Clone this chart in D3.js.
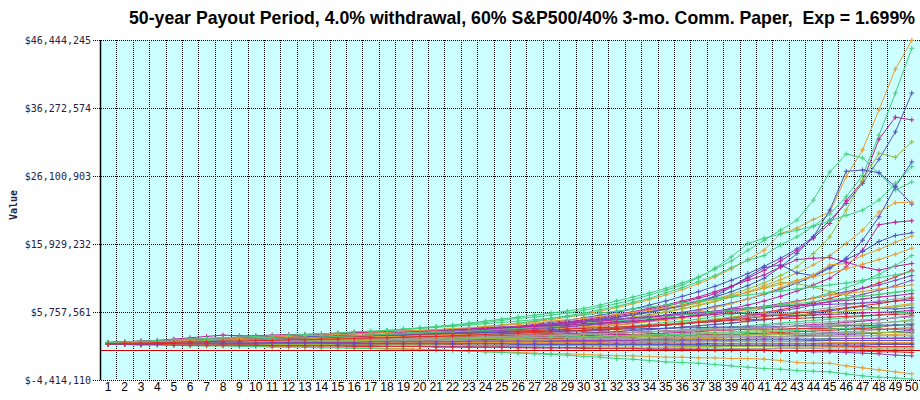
<!DOCTYPE html>
<html>
<head>
<meta charset="utf-8">
<script src="https://cdn.jsdelivr.net/npm/d3@7"></script>
<style>
body { margin: 0; background: #fff; }
svg { display: block; }
</style>
</head>
<body>
<svg id="chart" width="920" height="400"></svg>
<script>
const title = '50-year Payout Period, 4.0% withdrawal, 60% S&P500/40% 3-mo. Comm. Paper,  Exp = 1.699%'

const years = [1,2,3,4,5,6,7,8,9,10,11,12,13,14,15,16,17,18,19,20,21,22,23,24,25,
    26,27,28,29,30,31,32,33,34,35,36,37,38,39,40,41,42,43,44,45,46,47,48,49,50]

const yTicks = [-4414110, 5757561, 15929232, 26100903, 36272574, 46444245]
const yTickLabels = ['$-4,414,110', '$5,757,561', '$15,929,232', '$26,100,903', '$36,272,574', '$46,444,245']

// portfolio value per payout year, in millions of dollars
const s01 = [1.1,1.2,1.2,1.3,1.3,1.4,1.5,1.5,1.6,1.7, 1.8,1.9,1.9,2.0,2.2,2.3,2.4,2.5,2.7,2.8, 3.0,3.1,3.3,3.5,3.8,4.0,4.3,4.6,5.0,5.4, 5.9,6.4,7.0,7.6,8.3,9.1,10.0,11.0,12.2,13.6, 15.0,17.5,18.3,19.6,20.7,26.0,30.0,36.0,42.1,46.4]
const s02 = [1.0,1.1,1.2,1.2,1.3,1.4,1.4,1.5,1.6,1.6, 1.7,1.8,1.9,2.0,2.1,2.2,2.3,2.5,2.6,2.8, 2.9,3.1,3.3,3.6,3.8,4.1,4.4,4.8,5.2,5.6, 6.1,6.6,7.2,7.8,8.6,9.4,10.3,11.2,12.4,13.5, 14.2,15.8,17.0,18.6,20.4,23.0,26.2,32.2,38.5,45.2]
const s03 = [1.1,1.1,1.2,1.3,1.3,1.4,1.5,1.5,1.6,1.7, 1.7,1.8,1.9,2.0,2.1,2.1,2.2,2.3,2.5,2.6, 2.7,2.9,3.0,3.2,3.4,3.6,3.9,4.2,4.5,4.9, 5.3,5.7,6.2,6.8,7.4,8.1,8.8,9.6,10.5,11.5, 12.6,13.8,15.2,17.0,19.5,22.0,25.0,28.6,32.7,38.5]
const s04 = [1.0,1.1,1.1,1.2,1.2,1.3,1.4,1.4,1.5,1.5, 1.6,1.7,1.7,1.8,1.9,2.0,2.1,2.2,2.3,2.4, 2.6,2.7,2.9,3.0,3.2,3.4,3.6,3.9,4.2,4.5, 4.8,5.2,5.6,6.1,6.6,7.2,7.8,8.5,9.6,10.8, 12.0,13.4,14.9,16.8,19.0,22.4,25.3,31.6,34.9,34.5]
const s05 = [1.1,1.2,1.3,1.3,1.4,1.5,1.6,1.7,1.8,1.9, 2.0,2.1,2.2,2.3,2.5,2.6,2.8,3.0,3.2,3.4, 3.6,3.8,4.1,4.4,4.7,5.0,5.3,5.6,5.9,6.3, 6.8,7.4,8.0,8.6,9.3,10.1,11.0,12.2,13.4,15.0, 16.5,18.0,19.5,22.5,26.7,29.4,28.8,26.5,24.0,25.2]
const s06 = [1.0,1.1,1.1,1.2,1.3,1.3,1.4,1.4,1.5,1.6, 1.6,1.7,1.8,1.8,1.9,2.0,2.1,2.2,2.3,2.4, 2.5,2.6,2.8,2.9,3.1,3.3,3.5,3.7,4.0,4.3, 4.6,4.9,5.3,5.7,6.1,6.6,7.1,7.7,8.4,9.2, 10.1,11.2,12.5,14.5,17.0,21.0,25.5,29.5,28.9,31.2]
const s07 = [1.1,1.1,1.2,1.2,1.3,1.3,1.4,1.4,1.5,1.5, 1.6,1.6,1.7,1.8,1.8,1.9,2.0,2.0,2.1,2.2, 2.3,2.4,2.5,2.7,2.8,3.0,3.1,3.3,3.5,3.8, 4.0,4.3,4.6,4.9,5.3,5.7,6.1,6.6,7.1,7.7, 8.4,9.2,10.1,11.1,12.3,13.8,16.5,20.0,24.5,28.2]
const s08 = [1.1,1.2,1.2,1.3,1.4,1.5,1.5,1.6,1.7,1.8, 1.9,2.0,2.1,2.2,2.4,2.5,2.7,2.9,3.1,3.3, 3.5,3.7,4.0,4.2,4.5,4.8,5.0,5.3,5.6,6.0, 6.5,7.0,7.6,8.3,9.0,9.8,10.9,12.3,14.0,16.0, 16.8,17.4,18.0,18.6,19.4,20.2,21.0,22.5,25.0,27.5]
const s09 = [1.0,1.1,1.1,1.2,1.2,1.3,1.3,1.4,1.5,1.5, 1.6,1.6,1.7,1.8,1.9,1.9,2.0,2.1,2.2,2.3, 2.4,2.6,2.7,2.9,3.0,3.2,3.4,3.7,3.9,4.2, 4.5,4.9,5.3,5.7,6.2,6.7,7.3,8.0,8.8,9.7, 10.8,12.5,14.5,17.0,21.0,26.8,27.0,26.6,24.5,21.9]
const s10 = [1.1,1.1,1.2,1.2,1.3,1.3,1.4,1.5,1.5,1.6, 1.6,1.7,1.7,1.8,1.9,2.0,2.0,2.1,2.2,2.3, 2.4,2.5,2.6,2.8,2.9,3.1,3.3,3.5,3.7,4.0, 4.3,4.6,4.9,5.3,5.7,6.2,6.7,7.3,8.0,8.8, 9.7,10.6,11.6,12.8,14.2,16.0,18.0,20.7,22.1,22.2]
const s11 = [1.0,1.0,1.1,1.1,1.2,1.2,1.3,1.3,1.4,1.4, 1.5,1.5,1.6,1.6,1.7,1.8,1.8,1.9,2.0,2.1, 2.1,2.2,2.3,2.4,2.6,2.7,2.8,3.0,3.2,3.4, 3.6,3.8,4.1,4.4,4.7,5.0,5.4,5.8,6.3,6.8, 7.4,8.1,8.9,9.8,10.8,12.5,15.0,18.8,19.2,19.4]
const s12 = [1.1,1.1,1.2,1.2,1.3,1.3,1.4,1.4,1.5,1.6, 1.6,1.7,1.8,1.8,1.9,2.0,2.1,2.2,2.3,2.4, 2.5,2.7,2.8,3.0,3.2,3.4,3.6,3.8,4.1,4.4, 4.7,5.0,5.4,5.8,6.3,6.8,7.4,8.1,9.5,11.0, 12.4,12.8,11.6,11.2,12.5,13.6,14.8,16.3,17.2,17.6]
const s13 = [1.0,1.1,1.1,1.2,1.2,1.3,1.3,1.4,1.4,1.5, 1.5,1.6,1.6,1.7,1.8,1.8,1.9,2.0,2.0,2.1, 2.2,2.3,2.4,2.5,2.6,2.8,2.9,3.1,3.3,3.5, 3.7,4.0,4.3,4.6,5.0,5.4,5.9,6.4,7.0,7.7, 8.5,9.4,10.4,11.3,12.8,13.0,14.2,15.1,16.2,17.1]
const s14 = [1.1,1.2,1.2,1.3,1.3,1.4,1.5,1.5,1.6,1.7, 1.7,1.8,1.9,2.0,2.0,2.1,2.2,2.3,2.4,2.5, 2.7,2.8,3.0,3.1,3.3,3.5,3.8,4.0,4.3,4.6, 5.0,5.4,5.8,6.3,6.8,7.4,8.0,8.8,9.6,10.5, 11.3,12.5,13.6,13.8,13.9,13.2,12.5,12.0,12.6,13.0]
const s15 = [1.0,1.0,1.1,1.1,1.2,1.2,1.3,1.3,1.4,1.4, 1.5,1.5,1.6,1.6,1.7,1.7,1.8,1.9,1.9,2.0, 2.1,2.2,2.2,2.3,2.4,2.5,2.7,2.8,2.9,3.1, 3.3,3.5,3.7,3.9,4.2,4.4,4.7,5.1,5.4,5.8, 6.3,6.8,7.3,7.9,8.6,9.4,10.3,11.4,12.7,14.2]
const s16 = [1.1,1.1,1.2,1.2,1.2,1.3,1.3,1.4,1.4,1.5, 1.5,1.5,1.6,1.6,1.7,1.7,1.8,1.8,1.9,2.0, 2.0,2.1,2.2,2.2,2.3,2.4,2.5,2.6,2.8,2.9, 3.0,3.2,3.4,3.6,3.8,4.0,4.3,4.6,4.9,5.3, 5.7,6.1,6.6,7.2,7.8,8.5,9.3,10.1,11.0,12.0]
const s17 = [0.9,1.0,1.0,1.1,1.1,1.1,1.2,1.2,1.3,1.3, 1.4,1.4,1.5,1.5,1.6,1.6,1.7,1.8,1.8,1.9, 2.0,2.0,2.1,2.2,2.3,2.4,2.5,2.6,2.7,2.9, 3.0,3.2,3.4,3.6,3.8,4.0,4.3,4.5,4.8,5.1, 5.5,5.9,6.3,6.8,7.3,7.8,8.4,9.0,9.7,10.5]
const s18 = [1.0,1.1,1.1,1.2,1.2,1.3,1.3,1.4,1.4,1.5, 1.6,1.6,1.7,1.7,1.8,1.9,2.0,2.1,2.2,2.3, 2.4,2.5,2.6,2.8,2.9,3.1,3.3,3.5,3.7,4.0, 4.3,4.6,5.0,5.4,5.8,6.3,6.8,7.4,8.0,8.7, 9.4,10.2,10.0,9.5,8.8,8.3,8.1,8.4,8.7,9.0]
const s19 = [1.1,1.1,1.1,1.2,1.2,1.3,1.3,1.3,1.4,1.4, 1.5,1.5,1.6,1.6,1.7,1.7,1.8,1.8,1.9,2.0, 2.0,2.1,2.2,2.3,2.4,2.5,2.6,2.7,2.8,3.0, 3.1,3.3,3.5,3.6,3.8,4.0,4.2,4.4,4.7,5.0, 5.2,5.5,5.8,6.1,6.4,6.8,7.1,7.4,7.7,8.0]
const s20 = [1.0,1.0,1.1,1.1,1.1,1.2,1.2,1.3,1.3,1.3, 1.4,1.4,1.5,1.5,1.6,1.6,1.7,1.7,1.8,1.8, 1.9,2.0,2.0,2.1,2.2,2.3,2.3,2.4,2.5,2.6, 2.8,2.9,3.0,3.2,3.3,3.5,3.7,3.9,4.1,4.3, 4.6,4.8,5.1,5.3,5.6,5.9,6.1,6.4,6.7,7.0]
const s21 = [1.1,1.1,1.2,1.2,1.2,1.3,1.3,1.3,1.4,1.4, 1.4,1.5,1.5,1.6,1.6,1.6,1.7,1.7,1.8,1.8, 1.9,1.9,2.0,2.1,2.1,2.2,2.3,2.4,2.5,2.6, 2.7,2.8,3.0,3.1,3.3,3.5,3.7,3.9,4.1,4.4, 4.6,4.9,5.2,5.6,5.9,6.3,6.6,6.3,6.2,6.4]
const s22 = [0.9,1.0,1.0,1.0,1.1,1.1,1.1,1.2,1.2,1.3, 1.3,1.3,1.4,1.4,1.5,1.5,1.6,1.6,1.7,1.7, 1.8,1.8,1.9,1.9,2.0,2.1,2.1,2.2,2.3,2.4, 2.5,2.6,2.7,2.8,2.9,3.1,3.2,3.4,3.5,3.7, 3.9,4.1,4.3,4.5,4.7,4.9,5.1,5.3,5.6,5.8]
const s23 = [1.0,1.0,1.0,1.1,1.1,1.1,1.2,1.2,1.2,1.3, 1.3,1.3,1.4,1.4,1.4,1.5,1.5,1.6,1.6,1.6, 1.7,1.7,1.8,1.8,1.9,1.9,2.0,2.1,2.1,2.2, 2.3,2.4,2.4,2.5,2.6,2.7,2.8,3.0,3.1,3.2, 3.4,3.5,3.7,3.9,4.0,4.2,4.4,4.6,4.9,5.2]
const s24 = [1.1,1.1,1.1,1.1,1.2,1.2,1.2,1.3,1.3,1.3, 1.3,1.4,1.4,1.4,1.5,1.5,1.5,1.6,1.6,1.6, 1.7,1.7,1.7,1.8,1.8,1.9,1.9,2.0,2.0,2.1, 2.1,2.2,2.3,2.3,2.4,2.5,2.6,2.7,2.8,2.9, 3.0,3.1,3.2,3.4,3.5,3.7,3.9,4.1,4.3,4.6]
const s25 = [1.0,1.0,1.0,1.1,1.1,1.1,1.1,1.2,1.2,1.2, 1.2,1.3,1.3,1.3,1.4,1.4,1.4,1.4,1.5,1.5, 1.5,1.6,1.6,1.6,1.7,1.7,1.8,1.8,1.8,1.9, 1.9,2.0,2.0,2.1,2.2,2.2,2.3,2.4,2.4,2.5, 2.6,2.7,2.8,2.9,3.0,3.2,3.3,3.5,3.8,4.0]
const s26 = [0.9,0.9,1.0,1.0,1.0,1.0,1.1,1.1,1.1,1.1, 1.2,1.2,1.2,1.2,1.3,1.3,1.3,1.3,1.4,1.4, 1.4,1.5,1.5,1.5,1.5,1.6,1.6,1.6,1.7,1.7, 1.8,1.8,1.8,1.9,1.9,2.0,2.1,2.1,2.2,2.3, 2.3,2.4,2.5,2.6,2.7,2.8,2.9,3.1,3.3,3.5]
const s27 = [1.0,1.0,1.0,1.0,1.0,1.1,1.1,1.1,1.1,1.1, 1.2,1.2,1.2,1.2,1.2,1.3,1.3,1.3,1.3,1.3, 1.4,1.4,1.4,1.4,1.5,1.5,1.5,1.5,1.6,1.6, 1.6,1.7,1.7,1.7,1.8,1.8,1.9,1.9,2.0,2.0, 2.1,2.1,2.2,2.3,2.3,2.4,2.5,2.6,2.8,3.0]
const s28 = [1.1,1.1,1.1,1.1,1.1,1.2,1.2,1.2,1.2,1.2, 1.2,1.3,1.3,1.3,1.3,1.3,1.3,1.4,1.4,1.4, 1.4,1.4,1.5,1.5,1.5,1.5,1.5,1.6,1.6,1.6, 1.6,1.7,1.7,1.7,1.7,1.8,1.8,1.8,1.9,1.9, 1.9,2.0,2.0,2.1,2.1,2.2,2.2,2.3,2.4,2.5]
const s29 = [1.0,1.0,1.0,1.0,1.0,1.1,1.1,1.1,1.1,1.1, 1.1,1.1,1.2,1.2,1.2,1.2,1.2,1.2,1.2,1.3, 1.3,1.3,1.3,1.3,1.3,1.4,1.4,1.4,1.4,1.4, 1.4,1.5,1.5,1.5,1.5,1.5,1.6,1.6,1.6,1.6, 1.7,1.7,1.7,1.7,1.8,1.8,1.8,1.9,1.9,2.0]
const s30 = [0.9,0.9,0.9,1.0,1.0,1.0,1.0,1.0,1.0,1.0, 1.0,1.1,1.1,1.1,1.1,1.1,1.1,1.1,1.1,1.2, 1.2,1.2,1.2,1.2,1.2,1.2,1.2,1.3,1.3,1.3, 1.3,1.3,1.3,1.3,1.3,1.4,1.4,1.4,1.4,1.4, 1.4,1.4,1.4,1.5,1.5,1.5,1.5,1.5,1.5,1.5]
const s31 = [1.0,1.0,1.0,1.0,1.0,1.0,1.1,1.1,1.1,1.1, 1.1,1.1,1.1,1.1,1.1,1.1,1.1,1.1,1.1,1.1, 1.1,1.1,1.1,1.1,1.1,1.1,1.1,1.1,1.1,1.1, 1.1,1.1,1.1,1.1,1.1,1.1,1.1,1.0,1.0,1.0, 1.0,1.0,1.0,1.0,1.0,1.0,1.0,1.0,1.0,1.0]
const s32 = [1.0,1.0,0.9,0.9,0.9,0.9,0.9,0.9,0.9,0.9, 0.9,0.9,0.9,0.9,0.9,0.9,0.9,0.9,0.9,0.9, 0.9,0.9,0.8,0.8,0.8,0.8,0.8,0.8,0.8,0.8, 0.8,0.8,0.8,0.8,0.7,0.7,0.7,0.7,0.7,0.7, 0.7,0.7,0.7,0.7,0.6,0.6,0.6,0.6,0.6,0.6]
const s33 = [0.9,0.9,0.9,0.9,0.9,0.9,0.9,0.8,0.8,0.8, 0.8,0.8,0.8,0.8,0.8,0.7,0.7,0.7,0.7,0.7, 0.7,0.6,0.6,0.6,0.6,0.6,0.6,0.5,0.5,0.5, 0.5,0.5,0.4,0.4,0.4,0.4,0.4,0.4,0.3,0.3, 0.3,0.3,0.3,0.3,0.2,0.2,0.2,0.2,0.2,0.2]
const s34 = [0.9,0.9,0.9,0.9,0.9,0.9,0.8,0.8,0.8,0.8, 0.8,0.8,0.7,0.7,0.7,0.7,0.7,0.6,0.6,0.6, 0.6,0.6,0.5,0.5,0.5,0.5,0.4,0.4,0.4,0.4, 0.3,0.3,0.3,0.2,0.2,0.2,0.1,0.1,0.1,0.0, 0.0,-0.1,-0.1,-0.2,-0.2,-0.3,-0.4,-0.5,-0.7,-0.8]
const s35 = [0.9,0.9,0.8,0.8,0.8,0.8,0.7,0.7,0.7,0.6, 0.6,0.6,0.5,0.5,0.5,0.4,0.4,0.3,0.3,0.2, 0.1,0.0,-0.1,-0.2,-0.2,-0.3,-0.4,-0.5,-0.5,-0.6, -0.7,-0.8,-0.8,-0.9,-1.0,-1.0,-1.1,-1.1,-1.2,-1.2, -1.3,-1.5,-1.8,-1.9,-1.9,-2.3,-2.6,-2.9,-3.2,-3.5]
const s36 = [0.9,0.9,0.8,0.8,0.8,0.7,0.7,0.7,0.6,0.6, 0.5,0.5,0.5,0.4,0.4,0.3,0.3,0.2,0.2,0.1, 0.1,0.0,-0.1,-0.2,-0.3,-0.4,-0.5,-0.6,-0.7,-0.9, -1.0,-1.2,-1.3,-1.5,-1.7,-1.8,-1.9,-2.1,-2.3,-2.5, -2.7,-2.8,-3.0,-3.1,-3.2,-3.5,-3.8,-4.0,-4.1,-4.3]
const s37 = [1.1,1.2,1.2,1.3,1.3,1.4,1.4,1.5,1.5,1.6, 1.6,1.7,1.7,1.8,1.8,1.9,2.0,2.0,2.1,2.2, 2.2,2.3,2.4,2.5,2.5,2.6,2.7,2.8,2.9,3.0, 3.2,3.3,3.5,3.7,3.9,4.2,4.4,4.7,5.0,5.3, 5.6,5.5,5.3,5.4,5.6,5.9,6.1,6.3,6.5,6.8]
const s38 = [1.0,1.1,1.1,1.1,1.2,1.2,1.2,1.3,1.3,1.4, 1.4,1.4,1.5,1.5,1.6,1.6,1.6,1.7,1.7,1.8, 1.8,1.9,1.9,2.0,2.0,2.1,2.2,2.2,2.3,2.4, 2.5,2.6,2.7,2.8,2.9,3.0,3.1,3.3,3.4,3.6, 3.7,3.9,4.0,4.2,4.3,4.4,4.6,4.7,4.9,5.0]
const s39 = [1.1,1.1,1.2,1.2,1.3,1.3,1.3,1.4,1.4,1.5, 1.5,1.6,1.6,1.6,1.7,1.7,1.8,1.8,1.9,1.9, 2.0,2.0,2.1,2.1,2.2,2.2,2.3,2.4,2.4,2.5, 2.6,2.6,2.7,2.8,2.9,2.9,3.0,3.1,3.1,3.2, 3.2,3.2,3.3,3.3,3.3,3.2,3.2,3.2,3.2,3.2]
const s40 = [1.0,1.0,1.0,1.1,1.1,1.1,1.1,1.2,1.2,1.2, 1.3,1.3,1.3,1.4,1.4,1.4,1.5,1.5,1.5,1.6, 1.6,1.7,1.7,1.7,1.8,1.8,1.9,1.9,2.0,2.0, 2.0,2.1,2.1,2.2,2.2,2.2,2.3,2.3,2.4,2.4, 2.4,2.5,2.5,2.5,2.6,2.6,2.6,2.7,2.7,2.7]
const s41 = [1.1,1.2,1.4,1.5,1.7,1.9,2.1,2.3,2.2,2.2, 2.3,2.4,2.4,2.5,2.6,2.7,2.7,2.8,2.9,3.0, 3.1,3.2,3.3,3.4,3.5,3.6,3.8,3.9,4.1,4.3, 4.4,4.6,4.8,5.0,5.2,5.4,5.6,5.8,6.0,6.2, 6.4,6.6,6.8,7.0,7.3,7.5,7.7,8.0,8.2,8.5]
const s42 = [1.1,1.1,1.2,1.3,1.3,1.4,1.5,1.5,1.6,1.7, 1.7,1.8,1.9,2.0,2.0,2.1,2.2,2.3,2.4,2.5, 2.6,2.7,2.8,2.9,3.0,3.1,3.3,3.4,3.6,3.7, 3.9,4.1,4.3,4.5,4.8,5.0,5.3,5.6,5.9,6.2, 6.6,7.0,7.4,7.8,8.3,8.8,9.3,9.8,10.5,11.2]
const s43 = [1.0,1.0,1.1,1.1,1.1,1.2,1.2,1.2,1.3,1.3, 1.3,1.4,1.4,1.4,1.5,1.5,1.5,1.6,1.6,1.6, 1.7,1.7,1.8,1.8,1.8,1.9,1.9,2.0,2.0,2.1, 2.1,2.2,2.2,2.3,2.4,2.4,2.5,2.6,2.6,2.7, 2.8,2.9,3.0,3.1,3.2,3.3,3.5,3.6,3.8,4.0]
const s44 = [1.0,1.1,1.1,1.2,1.2,1.3,1.3,1.4,1.5,1.5, 1.6,1.6,1.7,1.8,1.8,1.9,2.0,2.1,2.1,2.2, 2.3,2.4,2.5,2.6,2.7,2.9,3.0,3.1,3.3,3.5, 3.6,3.8,4.0,4.3,4.5,4.8,5.1,5.4,5.7,6.1, 6.5,6.9,7.3,7.8,8.3,8.5,8.8,9.2,9.5,9.8]
const s45 = [1.2,1.3,1.3,1.4,1.5,1.5,1.6,1.6,1.7,1.8, 1.8,1.9,1.9,2.0,2.1,2.1,2.2,2.3,2.3,2.4, 2.5,2.5,2.6,2.7,2.8,2.9,3.0,3.1,3.2,3.3, 3.4,3.5,3.6,3.8,3.9,4.0,4.2,4.3,4.5,4.6, 4.7,4.8,4.8,4.9,5.0,5.1,5.2,5.3,5.4,5.5]
const s46 = [1.2,1.3,1.4,1.5,1.5,1.6,1.7,1.8,1.9,2.0, 2.0,2.1,2.2,2.3,2.4,2.5,2.6,2.7,2.8,2.9, 3.0,3.1,3.2,3.4,3.5,3.6,3.8,3.9,4.1,4.3, 4.5,4.7,4.9,5.1,5.3,5.5,5.7,5.9,6.2,6.4, 6.5,6.6,6.7,6.8,6.9,7.0,7.1,7.2,7.4,7.5]
const s47 = [1.0,1.0,1.0,1.0,1.1,1.1,1.1,1.1,1.1,1.2, 1.2,1.2,1.2,1.3,1.3,1.3,1.3,1.4,1.4,1.4, 1.4,1.5,1.5,1.5,1.5,1.6,1.6,1.6,1.7,1.7, 1.7,1.8,1.8,1.8,1.9,1.9,1.9,2.0,2.0,2.0, 2.0,2.1,2.1,2.1,2.1,2.1,2.2,2.2,2.2,2.2]
const s48 = [1.0,1.0,1.0,1.0,1.0,1.0,1.0,1.0,1.0,1.0, 0.9,0.9,0.9,0.9,0.9,0.9,0.9,0.9,0.9,0.9, 0.9,0.8,0.8,0.8,0.8,0.8,0.8,0.8,0.8,0.7, 0.7,0.7,0.7,0.7,0.7,0.6,0.6,0.6,0.6,0.6, 0.6,0.5,0.5,0.5,0.5,0.5,0.4,0.4,0.4,0.4]
const s49 = [1.1,1.1,1.1,1.1,1.1,1.1,1.1,1.1,1.1,1.1, 1.1,1.1,1.1,1.1,1.1,1.2,1.2,1.2,1.2,1.2, 1.2,1.2,1.2,1.2,1.2,1.2,1.2,1.2,1.2,1.2, 1.2,1.3,1.3,1.3,1.3,1.3,1.3,1.3,1.3,1.3, 1.3,1.3,1.3,1.3,1.2,1.2,1.2,1.2,1.2,1.2]
const s50 = [1.1,1.2,1.2,1.3,1.4,1.5,1.6,1.7,1.8,1.8, 1.9,2.0,2.1,2.1,2.2,2.2,2.3,2.4,2.4,2.5, 2.5,2.6,2.6,2.7,2.7,2.8,2.8,2.9,3.0,3.0, 3.1,3.2,3.2,3.3,3.3,3.4,3.4,3.5,3.5,3.5, 3.5,3.6,3.6,3.6,3.7,3.7,3.7,3.8,3.8,3.8]
const s51 = [1.1,1.2,1.2,1.3,1.4,1.4,1.5,1.6,1.6,1.7, 1.8,1.9,1.9,2.0,2.1,2.2,2.3,2.4,2.5,2.6, 2.7,2.8,2.9,3.0,3.2,3.3,3.5,3.6,3.8,4.0, 4.2,4.4,4.6,4.8,5.0,5.3,5.5,5.8,6.0,6.3, 6.5,6.8,7.0,7.3,7.6,7.8,8.1,8.4,8.7,9.0]
const s52 = [1.2,1.3,1.4,1.5,1.6,1.7,1.8,1.9,2.0,2.1, 2.1,2.2,2.3,2.4,2.5,2.6,2.7,2.7,2.8,2.9, 3.0,3.1,3.2,3.3,3.4,3.5,3.6,3.7,3.8,4.0, 4.1,4.3,4.4,4.6,4.8,5.0,5.2,5.4,5.6,5.5, 5.3,5.2,5.2,5.3,5.4,5.5,5.6,5.7,5.8,6.0]
const s53 = [0.9,0.9,0.9,0.9,0.8,0.8,0.8,0.8,0.8,0.8, 0.7,0.7,0.7,0.7,0.7,0.6,0.6,0.6,0.6,0.6, 0.5,0.5,0.5,0.5,0.5,0.4,0.4,0.4,0.4,0.3, 0.3,0.3,0.3,0.2,0.2,0.2,0.2,0.1,0.1,0.1, 0.1,0.0,0.0,0.0,-0.1,-0.1,-0.1,-0.2,-0.2,-0.3]
const s54 = [1.1,1.1,1.1,1.2,1.2,1.2,1.3,1.3,1.3,1.3, 1.4,1.4,1.4,1.5,1.5,1.5,1.5,1.6,1.6,1.6, 1.7,1.7,1.7,1.8,1.8,1.8,1.9,1.9,1.9,2.0, 2.0,2.0,2.1,2.1,2.2,2.2,2.2,2.3,2.3,2.4, 2.4,2.4,2.5,2.5,2.5,2.6,2.6,2.7,2.7,2.8]
const s55 = [1.0,1.0,1.0,1.0,1.1,1.1,1.1,1.1,1.1,1.1, 1.2,1.2,1.2,1.2,1.2,1.2,1.3,1.3,1.3,1.3, 1.3,1.3,1.4,1.4,1.4,1.4,1.4,1.4,1.5,1.5, 1.5,1.5,1.5,1.6,1.6,1.6,1.6,1.6,1.6,1.7, 1.7,1.7,1.7,1.7,1.7,1.8,1.8,1.8,1.8,1.8]
const s56 = [1.1,1.1,1.2,1.2,1.2,1.3,1.3,1.4,1.4,1.4, 1.5,1.5,1.6,1.6,1.6,1.7,1.7,1.8,1.8,1.9, 1.9,2.0,2.0,2.1,2.1,2.2,2.3,2.3,2.4,2.5, 2.5,2.6,2.7,2.8,2.9,3.0,3.0,3.1,3.2,3.3, 3.4,3.5,3.6,3.7,3.8,3.9,4.0,4.1,4.3,4.4]
const s57 = [1.1,1.2,1.3,1.3,1.4,1.5,1.6,1.7,1.8,1.9, 2.0,2.1,2.2,2.3,2.4,2.5,2.6,2.7,2.9,3.0, 3.1,3.3,3.4,3.6,3.8,3.9,4.1,4.4,4.6,4.8, 5.1,5.4,5.7,6.0,6.4,6.8,7.2,7.7,8.2,8.7, 9.3,9.9,10.5,11.0,11.6,12.2,12.9,13.6,14.4,15.3]
const s58 = [1.0,1.0,1.0,1.0,1.1,1.1,1.1,1.1,1.1,1.1, 1.1,1.1,1.1,1.1,1.0,1.0,1.0,1.0,1.0,1.0, 1.0,1.0,1.0,1.0,1.0,0.9,0.9,0.9,0.9,0.9, 0.9,0.9,0.9,0.9,0.9,0.9,0.9,0.8,0.8,0.8, 0.8,0.8,0.8,0.8,0.8,0.8,0.8,0.9,0.9,0.9]
const s59 = [1.2,1.3,1.4,1.5,1.6,1.7,1.8,1.9,2.0,2.1, 2.2,2.3,2.4,2.5,2.6,2.8,2.9,3.0,3.2,3.3, 3.5,3.6,3.8,4.0,4.2,4.4,4.6,4.8,5.1,5.3, 5.6,5.9,6.2,6.5,6.8,7.1,7.4,7.7,8.0,8.3, 8.6,8.9,9.2,9.5,9.8,10.1,10.5,10.9,11.3,11.8]
const s60 = [1.0,1.1,1.1,1.2,1.2,1.3,1.3,1.4,1.4,1.5, 1.5,1.6,1.6,1.7,1.7,1.8,1.9,1.9,2.0,2.1, 2.1,2.2,2.3,2.4,2.5,2.6,2.7,2.8,2.9,3.0, 3.2,3.3,3.5,3.6,3.8,4.0,4.2,4.4,4.6,4.8, 5.1,5.3,5.6,5.8,6.1,6.4,6.7,7.0,7.4,7.8]

const series = [s01, s02, s03, s04, s05, s06, s07, s08, s09, s10, s11, s12, s13, s14, s15,
    s16, s17, s18, s19, s20, s21, s22, s23, s24, s25, s26, s27, s28, s29, s30,
    s31, s32, s33, s34, s35, s36, s37, s38, s39, s40, s41, s42, s43, s44, s45,
    s46, s47, s48, s49, s50, s51, s52, s53, s54, s55, s56, s57, s58, s59, s60]

const palette = {
    orange: '#ec9a30', green: '#44d07c', blue: '#5252c4', magenta: '#c61c98',
    olive: '#9cbc38', red: '#e02a2a', gray: '#a2a2a2', purple: '#9440c0'
}
const seriesColors = ['orange', 'green', 'blue', 'magenta', 'green', 'olive', 'blue', 'green', 'blue', 'orange',
    'magenta', 'blue', 'orange', 'magenta', 'green', 'red', 'purple', 'olive', 'gray', 'orange',
    'blue', 'green', 'magenta', 'olive', 'red', 'gray', 'purple', 'orange', 'green', 'blue',
    'magenta', 'red', 'gray', 'purple', 'orange', 'green', 'olive', 'gray', 'red', 'blue',
    'magenta', 'purple', 'green', 'orange', 'red', 'purple', 'gray', 'olive', 'orange', 'blue',
    'green', 'magenta', 'red', 'olive', 'purple', 'gray', 'orange', 'blue', 'green', 'red']

const unit = 1e6
const plot = { left: 100, right: 920, top: 40, bottom: 380 }

const svg = d3.select('#chart')

const x = d3.scalePoint()
    .domain(years)
    .range([plot.left, plot.right])
    .padding(0.5)

const y = d3.scaleLinear()
    .domain([yTicks[0], yTicks[yTicks.length - 1]])
    .range([plot.bottom, plot.top])

// Title
svg.append('text')
    .attr('x', 915)
    .attr('y', 24)
    .attr('text-anchor', 'end')
    .style('white-space', 'pre')
    .attr('font-family', '"Liberation Sans", Arial, sans-serif')
    .attr('font-weight', 'bold')
    .attr('font-size', 17.7)
    .attr('fill', '#000')
    .text(title)

// Plot background
svg.append('rect')
    .attr('x', plot.left)
    .attr('y', plot.top)
    .attr('width', plot.right - plot.left)
    .attr('height', plot.bottom - plot.top)
    .attr('fill', '#ccffff')

// Grid
const grid = svg.append('g')
    .attr('stroke', '#000')
    .attr('stroke-width', 1)
    .attr('stroke-dasharray', '1,1')
    .attr('shape-rendering', 'crispEdges')

grid.selectAll('line.h')
    .data(yTicks)
    .enter()
    .append('line')
    .attr('class', 'h')
    .attr('x1', plot.left - 7)
    .attr('x2', plot.right)
    .attr('y1', d => Math.round(y(d)) + 0.5)
    .attr('y2', d => Math.round(y(d)) + 0.5)

grid.selectAll('line.v')
    .data(years.slice(0, -1))
    .enter()
    .append('line')
    .attr('class', 'v')
    .attr('x1', d => Math.round(x(d) + x.step() / 2) + 0.5)
    .attr('x2', d => Math.round(x(d) + x.step() / 2) + 0.5)
    .attr('y1', plot.top)
    .attr('y2', plot.bottom)

// Y axis labels
svg.append('g')
    .selectAll('text')
    .data(yTicks)
    .enter()
    .append('text')
    .attr('x', 91)
    .attr('y', d => y(d))
    .attr('dy', '0.35em')
    .attr('text-anchor', 'end')
    .attr('font-family', '"DejaVu Sans Mono", monospace')
    .attr('font-size', 10)
    .attr('fill', '#222244')
    .text((d, i) => yTickLabels[i])

svg.append('text')
    .attr('transform', 'translate(13,205) rotate(-90)')
    .attr('text-anchor', 'middle')
    .attr('dy', '0.35em')
    .attr('font-family', '"DejaVu Sans Mono", monospace')
    .attr('font-weight', 'bold')
    .attr('font-size', 10)
    .attr('fill', '#222244')
    .text('Value')

// X axis labels
svg.append('g')
    .selectAll('text')
    .data(years)
    .enter()
    .append('text')
    .attr('x', d => x(d))
    .attr('y', 391)
    .attr('text-anchor', 'middle')
    .attr('font-family', '"Liberation Sans", Arial, sans-serif')
    .attr('font-size', 12)
    .attr('fill', '#000')
    .text(d => d)

// Lines
svg.append('clipPath')
    .attr('id', 'plot-clip')
    .append('rect')
    .attr('x', plot.left)
    .attr('y', plot.top - 3)
    .attr('width', plot.right - plot.left)
    .attr('height', plot.bottom - plot.top + 3)

const line = d3.line()
    .x((d, i) => x(years[i]))
    .y(d => y(d * unit))

const lines = svg.append('g').attr('clip-path', 'url(#plot-clip)')

const run = lines.selectAll('g.run')
    .data(series)
    .enter()
    .append('g')
    .attr('class', 'run')
    .attr('stroke', (d, i) => palette[seriesColors[i]])
    .attr('fill', 'none')

run.append('path')
    .attr('stroke-width', 1)
    .attr('d', line)

run.selectAll('path.mark')
    .data(d => d)
    .enter()
    .append('path')
    .attr('class', 'mark')
    .attr('stroke-width', 1)
    .attr('transform', (d, i) => `translate(${x(years[i])},${y(d * unit)})`)
    .attr('d', 'M-2.5,0H2.5M0,-2.5V2.5')

// Zero line
lines.append('line')
    .attr('x1', plot.left)
    .attr('x2', plot.right)
    .attr('y1', Math.round(y(0)) + 0.5)
    .attr('y2', Math.round(y(0)) + 0.5)
    .attr('stroke', '#cc0000')
    .attr('stroke-width', 1)

// Left axis
svg.append('line')
    .attr('x1', plot.left + 0.5)
    .attr('x2', plot.left + 0.5)
    .attr('y1', plot.top)
    .attr('y2', plot.bottom)
    .attr('stroke', '#000')
    .attr('stroke-width', 1.5)
</script>
</body>
</html>
